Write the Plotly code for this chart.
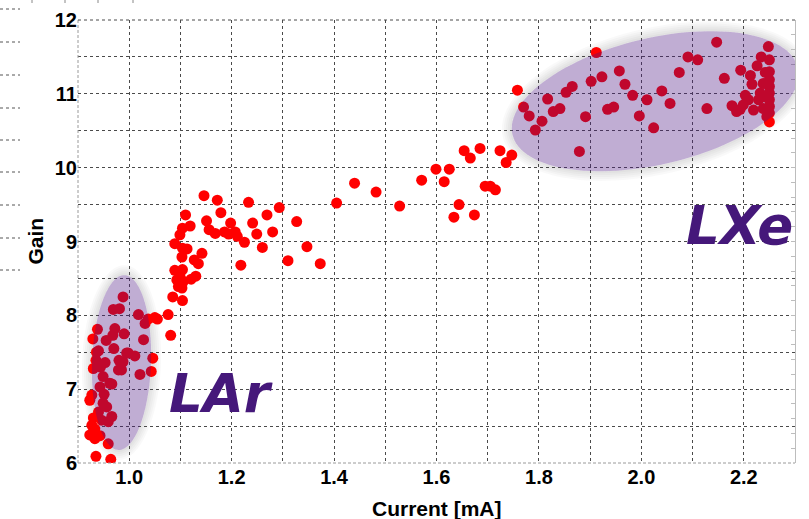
import numpy as np
import plotly.graph_objects as go

# ---------------- data ----------------
lar_current = [0.988, 0.969, 0.981, 1.018, 1.037, 1.050, 1.055, 1.031, 1.076, 1.081,
               0.938, 0.929, 0.972, 0.968, 0.990, 0.955, 0.970, 1.028, 0.940, 0.995,
               1.011, 0.980, 0.988, 1.046, 0.935, 0.953, 0.944, 0.930, 0.985, 1.021,
               1.043, 0.949, 0.966, 0.943, 0.951, 0.927, 0.923, 0.949, 0.956, 0.940,
               0.966, 0.959, 0.946, 0.930, 0.927, 0.933, 0.923, 0.943, 0.933, 0.959,
               0.935, 0.964, 0.936, 0.998, 0.979, 0.962]
lar_gain = [8.25, 8.08, 8.09, 8.01, 7.95, 7.97, 7.95, 7.89, 8.01, 7.73,
            7.81, 7.68, 7.82, 7.73, 7.75, 7.66, 7.55, 7.67, 7.52, 7.49,
            7.45, 7.39, 7.37, 7.42, 7.39, 7.36, 7.30, 7.28, 7.26, 7.20,
            7.24, 7.17, 7.07, 7.03, 6.93, 6.92, 6.85, 6.81, 6.76, 6.69,
            6.63, 6.56, 6.58, 6.61, 6.51, 6.46, 6.38, 6.37, 6.33, 6.26,
            6.09, 6.05, 7.50, 7.49, 7.26, 7.08]

mid_current = [1.146, 1.172, 1.110, 1.179, 1.233, 1.293, 1.269, 1.327, 1.151, 1.119,
               1.104, 1.198, 1.241, 1.156, 1.168, 1.186, 1.194, 1.207, 1.211, 1.225,
               1.249, 1.280, 1.099, 1.089, 1.104, 1.113, 1.142, 1.103, 1.260, 1.347,
               1.127, 1.135, 1.310, 1.373, 1.218, 1.089, 1.104, 1.099, 1.130, 1.121,
               1.093, 1.106, 1.096, 1.103, 1.085, 1.104]
mid_gain = [9.62, 9.56, 9.36, 9.39, 9.53, 9.46, 9.36, 9.27, 9.28, 9.21,
            9.18, 9.25, 9.25, 9.16, 9.11, 9.13, 9.10, 9.13, 9.07, 8.99,
            9.10, 9.13, 9.09, 8.97, 8.91, 8.90, 8.84, 8.79, 8.92, 8.93,
            8.75, 8.70, 8.74, 8.70, 8.68, 8.61, 8.62, 8.55, 8.53, 8.49,
            8.48, 8.46, 8.39, 8.37, 8.25, 8.20]

high_current = [1.405, 1.440, 1.482, 1.528, 1.571, 1.599, 1.625, 1.615, 1.644, 1.634,
                1.674, 1.654, 1.666, 1.685, 1.724, 1.747, 1.736, 1.695, 1.705, 1.715,
                1.758]
high_gain = [9.52, 9.79, 9.67, 9.48, 9.83, 9.98, 9.98, 9.81, 9.50, 9.33,
             9.36, 10.23, 10.13, 10.26, 10.23, 10.17, 10.07, 9.75, 9.75, 9.70,
             11.05]

lxe_current = [1.770, 1.781, 1.793, 1.806, 1.817, 1.828, 1.841, 1.853, 1.865, 1.879,
               1.891, 1.902, 1.912, 1.923, 1.934, 1.946, 1.957, 1.968, 1.983, 1.996,
               2.011, 2.024, 2.040, 2.056, 2.074, 2.091, 2.110, 2.128, 2.147, 2.162,
               2.248, 2.234, 2.250, 2.226, 2.194, 2.213, 2.242, 2.250, 2.250, 2.250,
               2.250, 2.250, 2.250, 2.250, 2.250, 2.216, 2.238, 2.232, 2.203, 2.209,
               2.229, 2.242, 2.177, 2.193, 2.186, 2.199, 2.219, 2.238, 2.245]
lxe_gain = [10.82, 10.70, 10.51, 10.63, 10.93, 10.76, 10.80, 11.02, 11.10, 10.22,
            10.69, 11.17, 11.56, 11.23, 10.79, 10.82, 11.31, 11.13, 10.98, 10.70,
            10.92, 10.54, 11.04, 10.87, 11.29, 11.50, 11.46, 10.80, 11.70, 11.21,
            11.64, 11.50, 11.46, 11.38, 11.32, 11.25, 11.29, 11.30, 11.19, 11.10,
            11.01, 10.92, 10.83, 10.74, 10.62, 11.13, 11.14, 11.01, 10.98, 10.92,
            10.92, 10.96, 10.84, 10.79, 10.76, 10.85, 10.78, 10.80, 10.69]

x_tickvals = [1.0, 1.2, 1.4, 1.6, 1.8, 2.0, 2.2]
x_ticktext = ["1.0", "1.2", "1.4", "1.6", "1.8", "2.0", "2.2"]
y_tickvals = [6, 7, 8, 9, 10, 11, 12]

region_labels = ["LAr", "LXe"]
# ellipse: centre (data), semi-axes (px), angle (deg, screen)
lar_ellipse = dict(cx=0.985, cy=7.36, a=87.5, b=29.5, ang=88.0)
lxe_ellipse = dict(cx=2.027, cy=10.90, a=146.6, b=63.2, ang=13.2)

# ---------------- layout geometry ----------------
W, H = 809, 519
ML, MR, MT, MB = 78, 14, 20, 56
XR = [0.9, 2.3]
YR = [6, 12]
PW, PH = W - ML - MR, H - MT - MB
PX_X = PW / (XR[1] - XR[0])
PX_Y = PH / (YR[1] - YR[0])


def ellipse_pts(e, grow=0.0, n=120):
    t = np.linspace(0, 2 * np.pi, n, endpoint=False)
    th = np.deg2rad(e["ang"])
    a, b = e["a"] + grow, e["b"] + grow
    dx = a * np.cos(t) * np.cos(th) - b * np.sin(t) * np.sin(th)
    dy = a * np.cos(t) * np.sin(th) + b * np.sin(t) * np.cos(th)
    return e["cx"] + dx / PX_X, e["cy"] + dy / PX_Y


def subpath(xs, ys):
    s = "M %.5f,%.5f " % (xs[0], ys[0])
    s += " ".join("L %.5f,%.5f" % (x, y) for x, y in zip(xs[1:], ys[1:]))
    return s + " Z"


current = lar_current + mid_current + high_current + lxe_current
gain = lar_gain + mid_gain + high_gain + lxe_gain

fig = go.Figure()
fig.add_trace(go.Scatter(
    x=current, y=gain, mode="markers",
    marker=dict(color="#ff0000", size=11, line=dict(width=0)),
    hoverinfo="skip", showlegend=False))
fig.add_trace(go.Scatter(x=[], y=[], yaxis="y2", showlegend=False))

shapes = []
grid_dash = "3px,3px"
grid_col = "#4a4a4a"

for e in (lar_ellipse, lxe_ellipse):
    inner = subpath(*ellipse_pts(e))
    for g in (2, 4, 6, 8, 10):
        shapes.append(dict(type="path", xref="x", yref="y", layer="below",
                           path=subpath(*ellipse_pts(e, grow=g)) + " " + inner,
                           fillrule="evenodd", fillcolor="rgba(0,0,0,0.025)",
                           line=dict(width=0)))
    shapes.append(dict(type="path", xref="x", yref="y", layer="above",
                       path=inner, fillcolor="rgba(75,20,130,0.35)",
                       line=dict(width=0)))

# frame
shapes.append(dict(type="line", xref="paper", yref="paper", x0=0, x1=0, y0=0, y1=1,
                   line=dict(color="#9a9a9a", width=1, dash="3px,2px")))
shapes.append(dict(type="line", xref="paper", yref="paper", x0=0, x1=1, y0=0, y1=0,
                   line=dict(color="#9a9a9a", width=1, dash="3px,2px")))
shapes.append(dict(type="line", xref="paper", yref="paper", x0=0, x1=1, y0=1, y1=1,
                   line=dict(color=grid_col, width=1, dash=grid_dash)))

# stray marks outside the plot (left edge and top edge of the picture)
for py in [9, 42, 75, 108, 140, 172, 205, 238, 270]:
    yy = (H - MB - py) / PH
    shapes.append(dict(type="line", xref="paper", yref="paper",
                       x0=(0 - ML) / PW, x1=(20 - ML) / PW, y0=yy, y1=yy,
                       line=dict(color="#555", width=1, dash="3px,3px")))
for px in [32, 65, 98, 133]:
    xx = (px - ML) / PW
    shapes.append(dict(type="line", xref="paper", yref="paper",
                       x0=xx, x1=xx, y0=(H - MB) / PH, y1=(H - MB - 3) / PH,
                       line=dict(color="#888", width=1)))

annotations = [
    dict(text=region_labels[0], xref="paper", yref="paper", x=(221 - ML) / PW,
         y=(H - MB - 393) / PH, showarrow=False, xanchor="center", yanchor="middle",
         font=dict(family="DejaVu Sans", size=53, color="#45187a", weight="bold", style="italic")),
    dict(text=region_labels[1], xref="paper", yref="paper", x=(739 - ML) / PW,
         y=(H - MB - 225) / PH, showarrow=False, xanchor="center", yanchor="middle",
         font=dict(family="DejaVu Sans", size=53, color="#45187a", weight="bold", style="italic")),
    dict(text="Gain", xref="paper", yref="paper", x=(35 - ML) / PW, y=0.5,
         textangle=-90, showarrow=False, xanchor="center", yanchor="middle",
         font=dict(family="Liberation Sans", size=21, color="black", weight="bold")),
    dict(text="Current [mA]", xref="paper", yref="paper", x=0.5,
         y=(H - MB - 508) / PH, showarrow=False, xanchor="center", yanchor="middle",
         font=dict(family="Liberation Sans", size=21, color="black", weight="bold")),
]

tickfont = dict(family="Liberation Sans", size=20, color="black", weight="bold")

fig.update_layout(
    width=W, height=H,
    margin=dict(l=ML, r=MR, t=MT, b=MB, pad=0),
    paper_bgcolor="white", plot_bgcolor="white",
    showlegend=False,
    xaxis=dict(range=XR, tickmode="array", tickvals=x_tickvals, ticktext=x_ticktext,
               showgrid=True, gridcolor=grid_col, griddash=grid_dash, gridwidth=1,
               minor=dict(dtick=0.1, tick0=0.9, showgrid=True, gridcolor=grid_col,
                          griddash=grid_dash, gridwidth=1),
               zeroline=False, showline=False, ticks="", tickfont=tickfont,
               automargin=False, fixedrange=True),
    yaxis=dict(range=YR, tickmode="array", tickvals=y_tickvals,
               showgrid=True, gridcolor=grid_col, griddash=grid_dash, gridwidth=1,
               minor=dict(dtick=0.5, tick0=6, showgrid=True, gridcolor=grid_col,
                          griddash=grid_dash, gridwidth=1),
               zeroline=False, showline=False, ticks="", tickfont=tickfont,
               ticklabelstandoff=0, automargin=False, fixedrange=True),
    yaxis2=dict(range=YR, overlaying="y", side="right", anchor="x", dtick=0.2, tick0=6,
                ticks="inside", ticklen=4, tickcolor="#bdbdbd", showline=True,
                linecolor="#bdbdbd", linewidth=1, showticklabels=False, showgrid=False,
                zeroline=False, automargin=False, fixedrange=True),
    shapes=shapes,
    annotations=annotations,
)

fig.write_html("out.html", config={"displayModeBar": False},
               post_script="document.body.style.margin='0px';document.body.style.overflow='hidden';")
